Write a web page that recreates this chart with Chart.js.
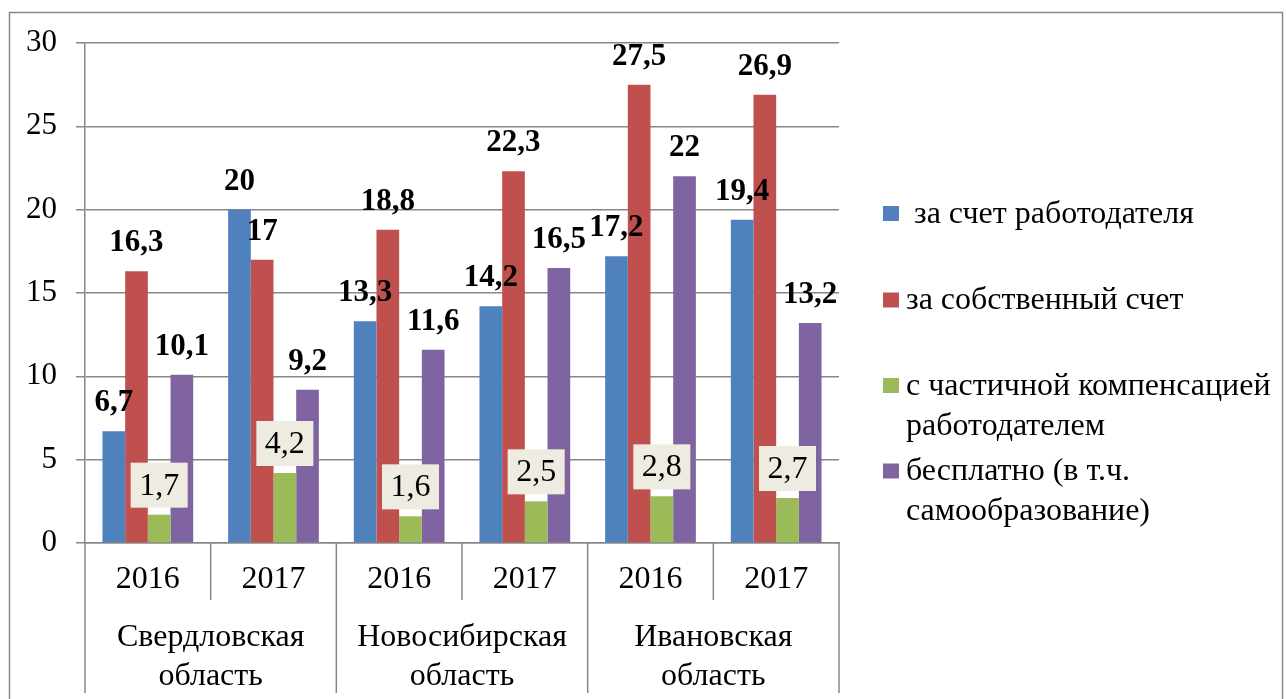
<!DOCTYPE html>
<html>
<head>
<meta charset="utf-8">
<script src="https://cdn.jsdelivr.net/npm/chart.js@4/dist/chart.umd.min.js"></script>
<style>
  html, body { margin: 0; padding: 0; background: #fff; }
  canvas { display: block; }
  .preload { position: absolute; left: -9999px; font-family: "Liberation Serif", "Times New Roman", serif; }
</style>
</head>
<body>
<div class="preload">Ааб 0123 <b>0123</b></div>
<canvas id="chart" width="1287" height="699"></canvas>
<script>
// Данные с диаграммы
const years = ['2016', '2017', '2016', '2017', '2016', '2017'];
const regions = [['Свердловская', 'область'], ['Новосибирская', 'область'], ['Ивановская', 'область']];
const employerPaid = [6.7, 20, 13.3, 14.2, 17.2, 19.4];
const selfPaid = [16.3, 17, 18.8, 22.3, 27.5, 26.9];
const partialComp = [1.7, 4.2, 1.6, 2.5, 2.8, 2.7];
const freeOfCharge = [10.1, 9.2, 11.6, 16.5, 22, 13.2];
const seriesNames = [
    [' за счет работодателя'],
    ['за собственный счет'],
    ['с частичной компенсацией', 'работодателем'],
    ['бесплатно (в т.ч.', 'самообразование)']
];
const seriesColors = ['#4F81BD', '#C0504D', '#9BBB59', '#8064A2'];
const yMin = 0, yMax = 30, yStep = 5;

const serif = '"Liberation Serif", "Times New Roman", serif';
const gridColor = '#878787';

const labelsPlugin = {
    id: 'valueLabels',
    afterDatasetsDraw(chart) {
        const ctx = chart.ctx;
        ctx.save();
        chart.data.datasets.forEach((ds, di) => {
            const meta = chart.getDatasetMeta(di);
            meta.data.forEach((bar, i) => {
                const txt = String(ds.data[i]).replace('.', ',');
                ctx.textAlign = 'center';
                ctx.textBaseline = 'middle';
                if (di === 2) {
                    const w = 57, h = 45;
                    const bottom = bar.y - 7;
                    ctx.fillStyle = '#EEECE1';
                    ctx.fillRect(bar.x - w / 2, bottom - h, w, h);
                    ctx.fillStyle = '#000';
                    ctx.font = '32px ' + serif;
                    ctx.fillText(txt, bar.x, bottom - h / 2 + 1);
                } else {
                    ctx.fillStyle = '#000';
                    ctx.font = 'bold 31px ' + serif;
                    ctx.fillText(txt, bar.x, bar.y - 28);
                }
            });
        });
        ctx.restore();
    },
    afterDraw(chart) {
        const ctx = chart.ctx;
        const xs = chart.scales.x;
        const area = chart.chartArea;
        ctx.save();
        // рамка
        ctx.strokeStyle = gridColor;
        ctx.lineWidth = 1.5;
        ctx.strokeRect(9.5, 12.5, 1273, 720);

        // границы категорий на оси X
        const bounds = [];
        for (let k = 0; k <= years.length; k++) {
            if (k === 0) bounds.push(xs.left);
            else if (k === years.length) bounds.push(xs.right);
            else bounds.push((xs.getPixelForValue(k - 1) + xs.getPixelForValue(k)) / 2);
        }
        bounds.forEach((bx, k) => {
            ctx.beginPath();
            ctx.moveTo(bx, area.bottom);
            ctx.lineTo(bx, k % 2 === 0 ? area.bottom + 150 : area.bottom + 57);
            ctx.stroke();
        });

        ctx.fillStyle = '#000';
        ctx.textAlign = 'center';
        ctx.textBaseline = 'middle';
        ctx.font = '32px ' + serif;
        years.forEach((y, i) => {
            ctx.fillText(y, xs.getPixelForValue(i), area.bottom + 37);
        });
        regions.forEach((lines, g) => {
            const cx = (bounds[g * 2] + bounds[g * 2 + 2]) / 2;
            lines.forEach((ln, j) => {
                ctx.fillText(ln, cx, area.bottom + 95 + j * 39);
            });
        });

        // легенда
        const legendY = [213.5, 300, 385.5, 471];
        ctx.textAlign = 'left';
        ctx.font = '32px ' + serif;
        seriesNames.forEach((lines, s) => {
            ctx.fillStyle = seriesColors[s];
            ctx.fillRect(883, legendY[s] - 7.5, 16, 15);
            ctx.fillStyle = '#000';
            lines.forEach((ln, j) => {
                ctx.fillText(ln, 906, legendY[s] + 1 + j * 40);
            });
        });
        ctx.restore();
    }
};

const data = {
    labels: years,
    datasets: [employerPaid, selfPaid, partialComp, freeOfCharge].map((vals, s) => ({
        label: seriesNames[s].join(' ').trim(),
        data: vals,
        backgroundColor: seriesColors[s],
        borderWidth: 0,
        categoryPercentage: 0.722,
        barPercentage: 1
    }))
};

function draw() {
    new Chart(document.getElementById('chart'), {
        type: 'bar',
        data: data,
        options: {
            responsive: false,
            animation: false,
            devicePixelRatio: 1,
            layout: { padding: { left: 0, right: 1287 - 839, top: 43, bottom: 0 } },
            plugins: {
                legend: { display: false },
                tooltip: { enabled: false }
            },
            scales: {
                x: {
                    ticks: { display: false },
                    grid: { display: false },
                    border: { display: true, color: gridColor, width: 1.5 },
                    afterFit(scale) { scale.height = 699 - 543; }
                },
                y: {
                    min: yMin,
                    max: yMax,
                    ticks: {
                        stepSize: yStep,
                        color: '#000',
                        padding: 19,
                        font: { family: serif, size: 31 }
                    },
                    grid: { color: gridColor, lineWidth: 1.5, tickLength: 9 },
                    border: { display: true, color: gridColor, width: 1.5 },
                    afterFit(scale) { scale.width = 85; }
                }
            }
        },
        plugins: [labelsPlugin]
    });
}

Promise.all([
    document.fonts.load('31px "Liberation Serif"'),
    document.fonts.load('bold 31px "Liberation Serif"')
]).then(draw, draw);
</script>
</body>
</html>
